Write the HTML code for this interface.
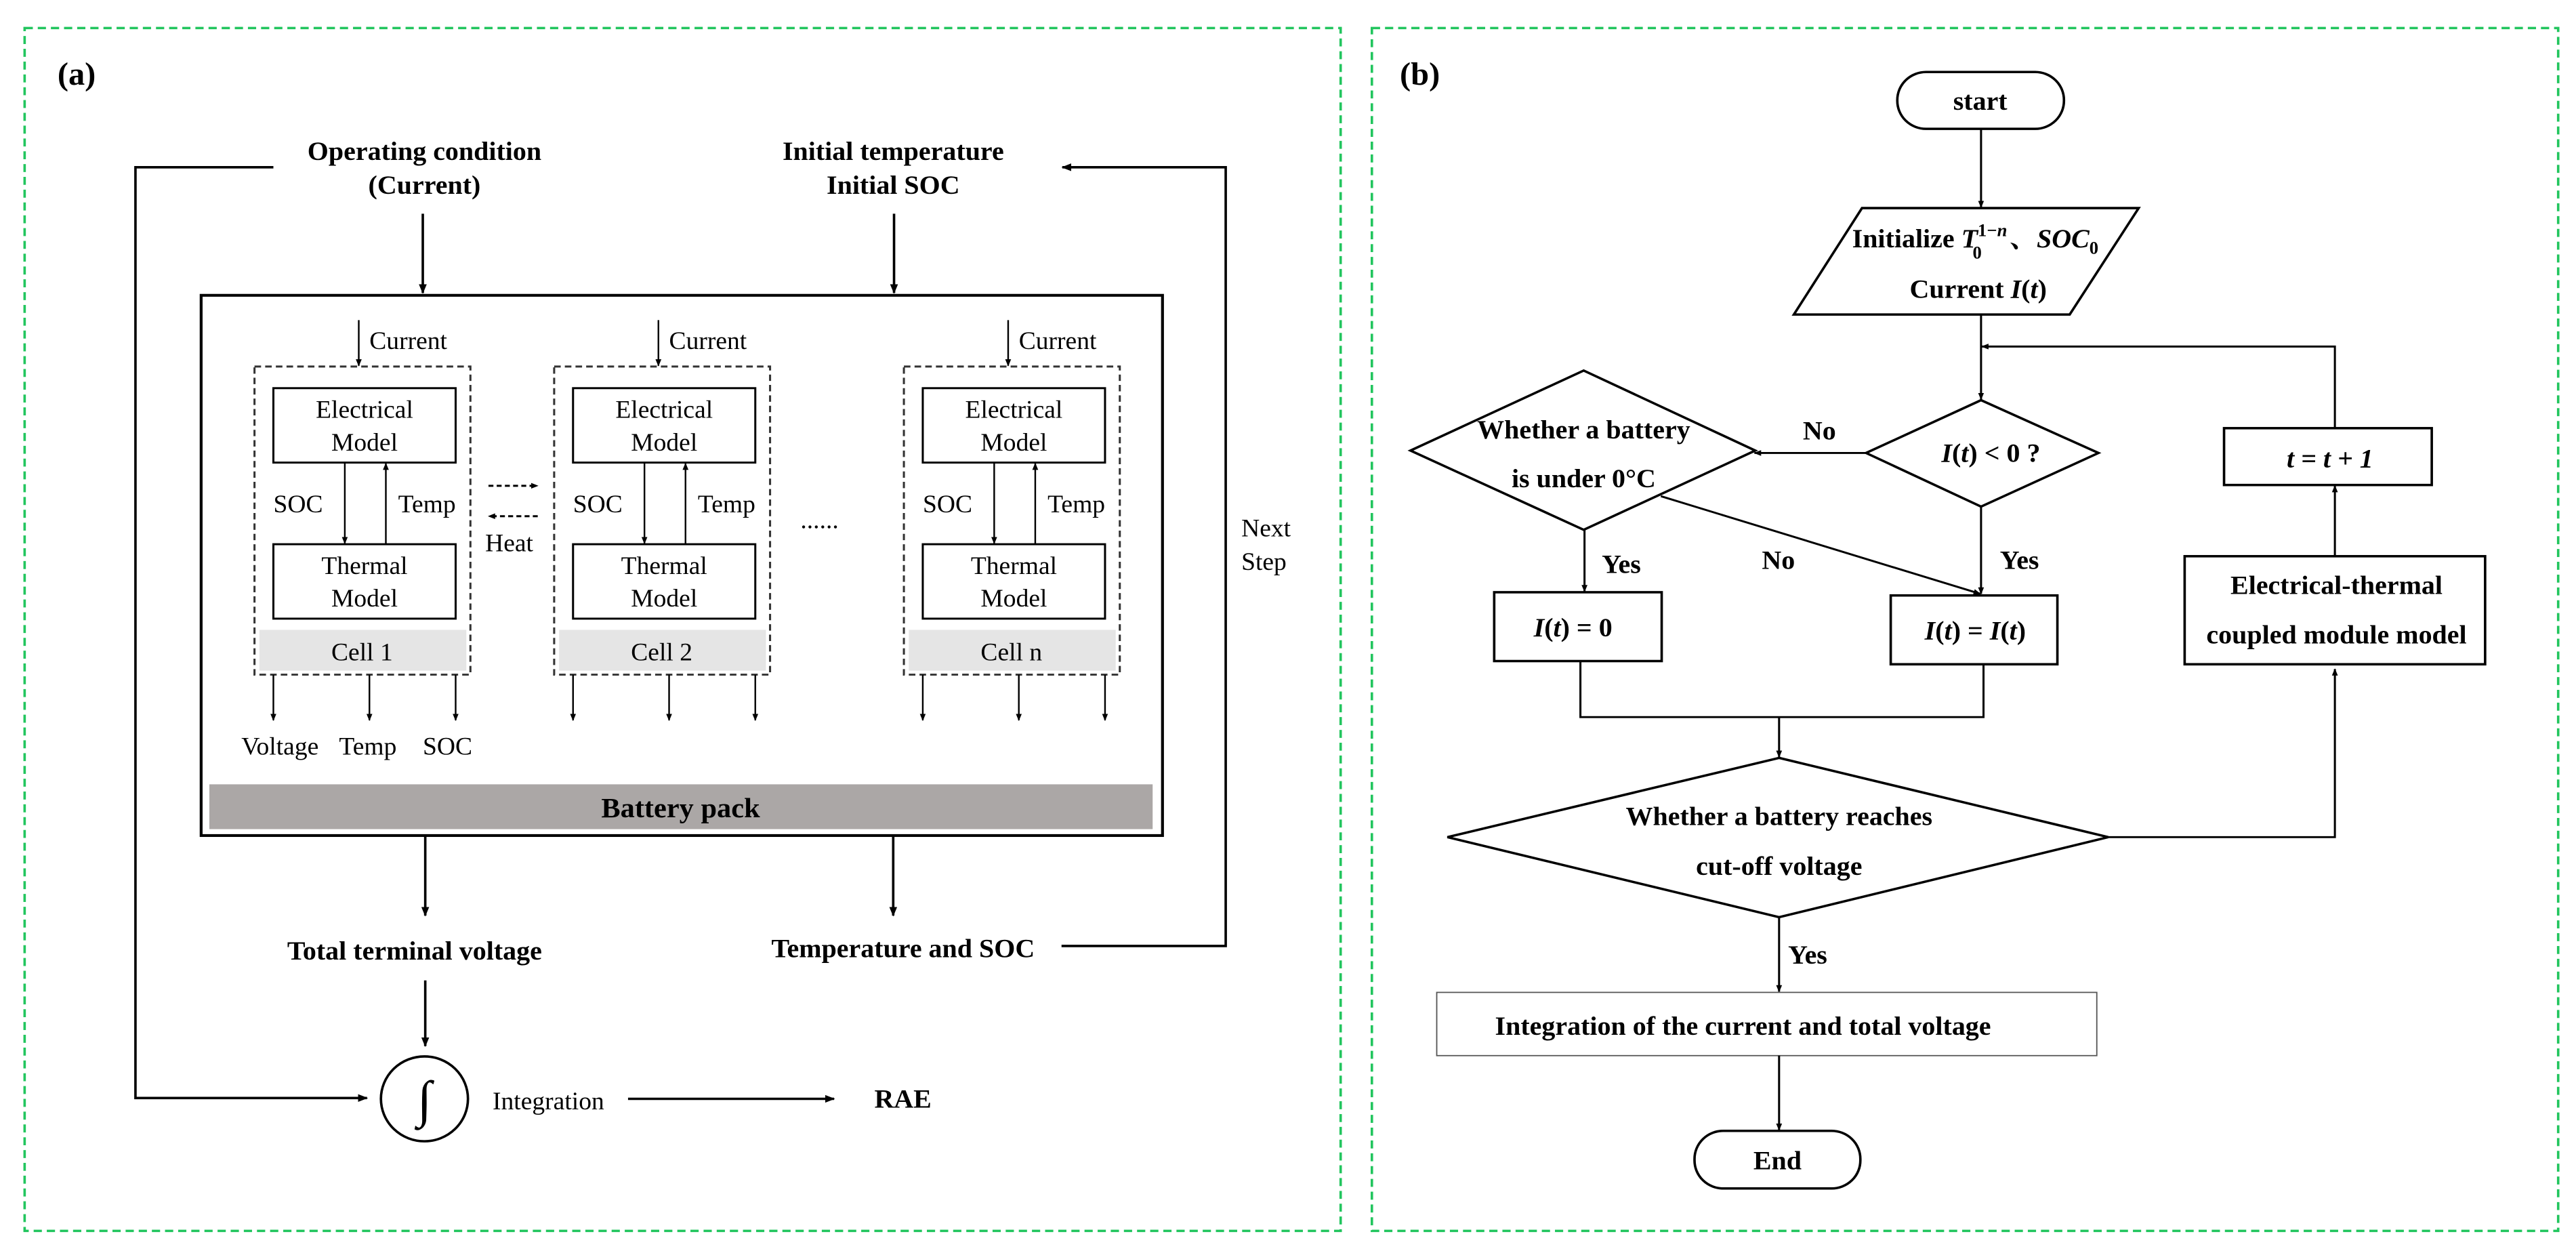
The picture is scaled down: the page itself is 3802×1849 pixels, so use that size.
<!DOCTYPE html>
<html><head><meta charset="utf-8"><style>
html,body{margin:0;padding:0;background:#fff;}
svg{display:block;}
text{font-family:"Liberation Serif","Noto Serif CJK SC",serif;fill:#000;}
.b{font-weight:bold;font-size:33px;}
.n{font-size:31px;}
</style></head><body>
<svg width="3802" height="1849" viewBox="0 0 3802 1849" xmlns="http://www.w3.org/2000/svg">
<defs>
<marker id="as" viewBox="0 0 10 10" refX="9" refY="5" markerWidth="9" markerHeight="9" orient="auto" markerUnits="userSpaceOnUse"><path d="M0,1L10,5L0,9z" fill="#000"/></marker>
<marker id="al" viewBox="0 0 10 10" refX="9" refY="5" markerWidth="12" markerHeight="12" orient="auto" markerUnits="userSpaceOnUse"><path d="M0,1L10,5L0,9z" fill="#000"/></marker>
<g id="cell">
<rect x="310" y="458" width="263" height="385" fill="none" stroke="#333" stroke-width="2.5" stroke-dasharray="8,5"/>
<rect x="316" y="787" width="252" height="51" fill="#e5e5e5"/>
<rect x="333" y="485" width="222" height="93" fill="#fff" stroke="#000" stroke-width="2.5"/>
<rect x="333" y="680" width="222" height="93" fill="#fff" stroke="#000" stroke-width="2.5"/>
<text class="n" x="444" y="522" text-anchor="middle">Electrical</text>
<text class="n" x="444" y="563" text-anchor="middle">Model</text>
<text class="n" x="444" y="717" text-anchor="middle">Thermal</text>
<text class="n" x="444" y="758" text-anchor="middle">Model</text>
<line x1="420" y1="578" x2="420" y2="679" stroke="#000" stroke-width="2" marker-end="url(#as)"/>
<line x1="470" y1="680" x2="470" y2="579" stroke="#000" stroke-width="2" marker-end="url(#as)"/>
<text class="n" x="333" y="640">SOC</text>
<text class="n" x="485" y="640">Temp</text>
<line x1="437" y1="400" x2="437" y2="457" stroke="#000" stroke-width="2" marker-end="url(#as)"/>
<text class="n" x="450" y="436">Current</text>
<line x1="333" y1="843" x2="333" y2="900" stroke="#000" stroke-width="2" marker-end="url(#as)"/>
<line x1="450" y1="843" x2="450" y2="900" stroke="#000" stroke-width="2" marker-end="url(#as)"/>
<line x1="555" y1="843" x2="555" y2="900" stroke="#000" stroke-width="2" marker-end="url(#as)"/>
</g>
</defs>

<g transform="scale(1.2117,1.181)">
<rect x="30" y="35" width="1603" height="1503" fill="none" stroke="#22c55e" stroke-width="3" stroke-dasharray="10,6"/>
<text x="70" y="106" style="font-weight:bold;font-size:40px">(a)</text>
<text class="b" x="517" y="200" text-anchor="middle">Operating condition</text>
<text class="b" x="517" y="242" text-anchor="middle">(Current)</text>
<text class="b" x="1088" y="200" text-anchor="middle">Initial temperature</text>
<text class="b" x="1088" y="242" text-anchor="middle">Initial SOC</text>
<polyline points="333,209 165,209 165,1372 447,1372" fill="none" stroke="#000" stroke-width="3" marker-end="url(#al)"/>
<line x1="515" y1="267" x2="515" y2="366" stroke="#000" stroke-width="3" marker-end="url(#al)"/>
<line x1="1089" y1="267" x2="1089" y2="366" stroke="#000" stroke-width="3" marker-end="url(#al)"/>
<polyline points="1293,1182 1493,1182 1493,209 1294,209" fill="none" stroke="#000" stroke-width="3" marker-end="url(#al)"/>
<text class="n" x="1512" y="670">Next</text>
<text class="n" x="1512" y="712">Step</text>
<rect x="245" y="369" width="1171" height="675" fill="none" stroke="#000" stroke-width="3.5"/>
<rect x="255" y="980" width="1149" height="56" fill="#aba7a6"/>
<text class="b" x="829" y="1021" text-anchor="middle" style="font-size:35px">Battery pack</text>
<use href="#cell"/>
<use href="#cell" x="365"/>
<use href="#cell" x="791"/>
<text class="n" x="441" y="825" text-anchor="middle">Cell 1</text>
<text class="n" x="806" y="825" text-anchor="middle">Cell 2</text>
<text class="n" x="1232" y="825" text-anchor="middle">Cell n</text>
<text class="n" x="294" y="943">Voltage</text>
<text class="n" x="413" y="943">Temp</text>
<text class="n" x="515" y="943">SOC</text>
<line x1="595" y1="607" x2="655" y2="607" stroke="#000" stroke-width="2.5" stroke-dasharray="6,4" marker-end="url(#as)"/>
<line x1="655" y1="645" x2="595" y2="645" stroke="#000" stroke-width="2.5" stroke-dasharray="6,4" marker-end="url(#as)"/>
<text class="n" x="591" y="689">Heat</text>
<text class="n" x="975" y="660">......</text>
<line x1="518" y1="1044" x2="518" y2="1144" stroke="#000" stroke-width="3" marker-end="url(#al)"/>
<line x1="1088" y1="1044" x2="1088" y2="1144" stroke="#000" stroke-width="3" marker-end="url(#al)"/>
<text class="b" x="505" y="1199" text-anchor="middle">Total terminal voltage</text>
<text class="b" x="1100" y="1196" text-anchor="middle">Temperature and SOC</text>
<line x1="518" y1="1225" x2="518" y2="1307" stroke="#000" stroke-width="3" marker-end="url(#al)"/>
<circle cx="517" cy="1373" r="53" fill="none" stroke="#000" stroke-width="3"/>
<text x="517" y="1395" text-anchor="middle" style="font-size:64px">∫</text>
<text class="n" x="600" y="1386">Integration</text>
<line x1="765" y1="1373" x2="1016" y2="1373" stroke="#000" stroke-width="3" marker-end="url(#al)"/>
<text class="b" x="1065" y="1384">RAE</text>
</g>

<g transform="translate(1900,0) scale(1.2117,1.181)">
<rect x="103" y="35" width="1445" height="1503" fill="none" stroke="#22c55e" stroke-width="3" stroke-dasharray="10,6"/>
<text x="137" y="106" style="font-weight:bold;font-size:40px">(b)</text>
<rect x="743" y="90" width="203" height="71" rx="35" fill="none" stroke="#000" stroke-width="3"/>
<text class="b" x="844" y="137" text-anchor="middle">start</text>
<line x1="845" y1="161" x2="845" y2="259" stroke="#000" stroke-width="2.5" marker-end="url(#as)"/>
<polygon points="700,260 1037,260 953,393 617,393" fill="none" stroke="#000" stroke-width="3"/>
<text class="b" x="688" y="309">Initialize <tspan font-style="italic">T</tspan><tspan font-size="22" dy="-14">1−<tspan font-style="italic">n</tspan></tspan><tspan font-size="22" dx="-42" dy="28">0</tspan><tspan dx="34" dy="-14">、<tspan font-style="italic">SOC</tspan></tspan><tspan font-size="22" dy="8">0</tspan></text>
<text class="b" x="758" y="372">Current <tspan font-style="italic">I</tspan>(<tspan font-style="italic">t</tspan>)</text>
<line x1="845" y1="393" x2="845" y2="499" stroke="#000" stroke-width="2.5" marker-end="url(#as)"/>
<polyline points="1276,535 1276,433 846,433" fill="none" stroke="#000" stroke-width="2.5" marker-end="url(#as)"/>
<polygon points="845,500 988,566 845,633 705,566" fill="none" stroke="#000" stroke-width="3"/>
<text class="b" x="857" y="577" text-anchor="middle"><tspan font-style="italic">I</tspan>(<tspan font-style="italic">t</tspan>) &lt; 0 ?</text>
<line x1="705" y1="566" x2="569" y2="566" stroke="#000" stroke-width="2.5" marker-end="url(#as)"/>
<text class="b" x="628" y="549">No</text>
<polygon points="361,463 570,563 361,662 150,563" fill="none" stroke="#000" stroke-width="3"/>
<text class="b" x="361" y="548" text-anchor="middle">Whether a battery</text>
<text class="b" x="361" y="609" text-anchor="middle">is under 0°C</text>
<line x1="362" y1="662" x2="362" y2="739" stroke="#000" stroke-width="2.5" marker-end="url(#as)"/>
<text class="b" x="383" y="716">Yes</text>
<rect x="252" y="740" width="204" height="86" fill="none" stroke="#000" stroke-width="3"/>
<text class="b" x="348" y="795" text-anchor="middle"><tspan font-style="italic">I</tspan>(<tspan font-style="italic">t</tspan>) = 0</text>
<line x1="455" y1="620" x2="844" y2="742" stroke="#000" stroke-width="2.5" marker-end="url(#as)"/>
<text class="b" x="578" y="711">No</text>
<line x1="845" y1="633" x2="845" y2="742" stroke="#000" stroke-width="2.5" marker-end="url(#as)"/>
<text class="b" x="868" y="711">Yes</text>
<rect x="735" y="744" width="203" height="86" fill="none" stroke="#000" stroke-width="3"/>
<text class="b" x="838" y="799" text-anchor="middle"><tspan font-style="italic">I</tspan>(<tspan font-style="italic">t</tspan>) = <tspan font-style="italic">I</tspan>(<tspan font-style="italic">t</tspan>)</text>
<polyline points="357,826 357,896 848,896 848,830" fill="none" stroke="#000" stroke-width="2.5"/>
<line x1="599" y1="896" x2="599" y2="946" stroke="#000" stroke-width="2.5" marker-end="url(#as)"/>
<polygon points="599,947 1000,1046 599,1146 195,1046" fill="none" stroke="#000" stroke-width="3"/>
<text class="b" x="599" y="1031" text-anchor="middle">Whether a battery reaches</text>
<text class="b" x="599" y="1093" text-anchor="middle">cut-off voltage</text>
<polyline points="1000,1046 1276,1046 1276,836" fill="none" stroke="#000" stroke-width="2.5" marker-end="url(#as)"/>
<rect x="1093" y="695" width="366" height="135" fill="none" stroke="#000" stroke-width="3"/>
<text class="b" x="1278" y="742" text-anchor="middle">Electrical-thermal</text>
<text class="b" x="1278" y="804" text-anchor="middle">coupled  module model</text>
<line x1="1276" y1="695" x2="1276" y2="607" stroke="#000" stroke-width="2.5" marker-end="url(#as)"/>
<rect x="1141" y="535" width="253" height="71" fill="none" stroke="#000" stroke-width="3"/>
<text class="b" x="1270" y="584" text-anchor="middle" font-style="italic">t = t + 1</text>
<line x1="599" y1="1146" x2="599" y2="1239" stroke="#000" stroke-width="2.5" marker-end="url(#as)"/>
<text class="b" x="610" y="1204">Yes</text>
<rect x="182" y="1240" width="804" height="79" fill="none" stroke="#555" stroke-width="1.5"/>
<text class="b" x="253" y="1293">Integration of the current and total voltage</text>
<line x1="599" y1="1319" x2="599" y2="1412" stroke="#000" stroke-width="2.5" marker-end="url(#as)"/>
<rect x="496" y="1413" width="202" height="72" rx="35" fill="none" stroke="#000" stroke-width="3"/>
<text class="b" x="597" y="1461" text-anchor="middle">End</text>
</g>
</svg>
</body></html>
